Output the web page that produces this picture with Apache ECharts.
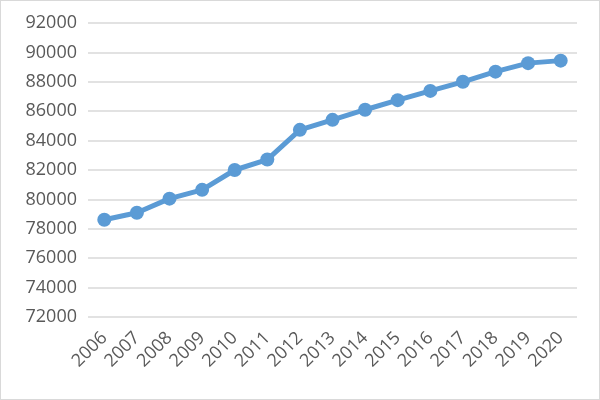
<!DOCTYPE html>
<html>
<head>
<meta charset="utf-8">
<script src="https://cdn.jsdelivr.net/npm/echarts@6/dist/echarts.min.js"></script>
<style>
  html, body { margin: 0; padding: 0; background: #fff; }
  #chart { width: 598px; height: 398px; border: 1px solid #d9d9d9; }
</style>
</head>
<body>
<div id="chart"></div>
<script>
const years = ['2006', '2007', '2008', '2009', '2010', '2011', '2012', '2013',
  '2014', '2015', '2016', '2017', '2018', '2019', '2020'];
const values = [78620, 79090, 80050, 80650, 82000, 82710, 84730, 85410,
  86100, 86750, 87380, 88000, 88690, 89270, 89440];

const chart = echarts.init(document.getElementById('chart'));

const option = {
  backgroundColor: '#ffffff',
  animation: false,
  grid: { left: 87, right: 22, top: 22, bottom: 82 },
  xAxis: {
    type: 'category',
    data: years,
    boundaryGap: true,
    axisLine: { show: false },
    axisTick: { show: false },
    axisLabel: {
      interval: 0,
      rotate: 45,
      margin: 18,
      fontSize: 18,
      color: '#595959',
      fontFamily: 'Open Sans'
    }
  },
  yAxis: {
    type: 'value',
    min: 72000,
    max: 92000,
    interval: 2000,
    axisLine: { show: false },
    axisTick: { show: false },
    axisLabel: {
      margin: 11,
      fontSize: 18,
      color: '#595959',
      fontFamily: 'Open Sans',
      formatter: (v) => String(v)
    },
    splitLine: { lineStyle: { color: '#d9d9d9', width: 1.5 } }
  },
  series: [{
    type: 'line',
    data: values,
    symbol: 'circle',
    symbolSize: 14,
    lineStyle: { color: '#5b9bd5', width: 5 },
    itemStyle: { color: '#5b9bd5' }
  }]
};

chart.setOption(option);
</script>
</body>
</html>
